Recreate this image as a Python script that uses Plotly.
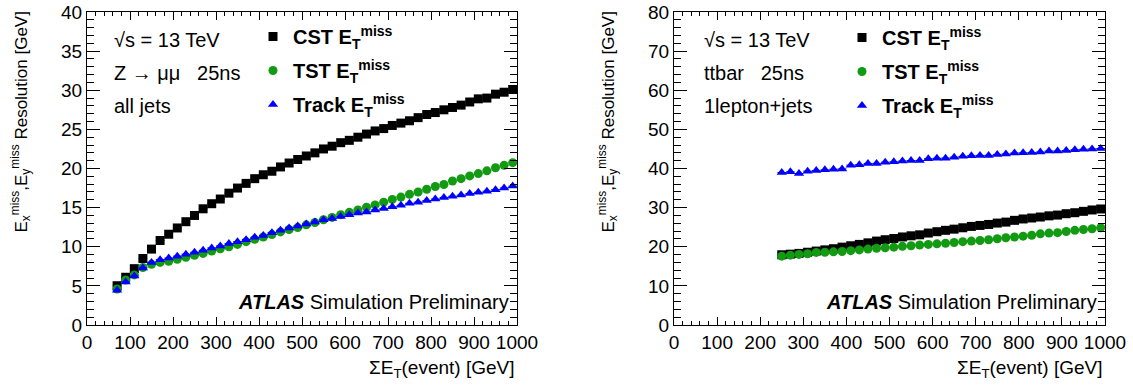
import plotly.graph_objects as go

# ---------------- data ----------------
x_left = [70, 90, 110, 130, 150, 170, 190, 210, 230, 250, 270, 290, 310, 330, 350, 370,
          390, 410, 430, 450, 470, 490, 510, 530, 550, 570, 590, 610, 630, 650, 670, 690,
          710, 730, 750, 770, 790, 810, 830, 850, 870, 890, 910, 930, 950, 970, 990]
cst_left = [5.02, 6.1, 7.2, 8.5, 9.7, 10.8, 11.6, 12.4, 13.2, 14.0, 14.85, 15.5, 16.1, 16.85,
            17.5, 18.1, 18.7, 19.2, 19.65, 20.2, 20.7, 21.15, 21.6, 22.0, 22.5, 22.85, 23.3,
            23.6, 24.0, 24.4, 24.8, 25.1, 25.5, 25.8, 26.1, 26.5, 26.9, 27.15, 27.5, 27.8,
            28.1, 28.5, 28.9, 29.0, 29.5, 29.75, 30.1]
tst_left = [4.6, 5.75, 6.4, 7.35, 7.75, 8.0, 8.15, 8.4, 8.65, 8.9, 9.15, 9.45, 9.75, 10.0,
            10.3, 10.65, 10.95, 11.25, 11.55, 11.9, 12.2, 12.45, 12.8, 13.1, 13.45, 13.75,
            14.1, 14.4, 14.7, 15.05, 15.35, 15.7, 16.05, 16.35, 16.7, 17.0, 17.35, 17.7,
            17.95, 18.4, 18.7, 19.05, 19.35, 19.7, 20.1, 20.4, 20.75]
trk_left = [4.45, 5.5, 6.25, 7.3, 8.0, 8.35, 8.55, 8.8, 9.05, 9.3, 9.55, 9.85, 10.1, 10.4,
            10.65, 10.9, 11.2, 11.45, 11.8, 12.1, 12.4, 12.65, 12.9, 13.15, 13.45, 13.6,
            13.85, 14.1, 14.3, 14.45, 14.7, 14.9, 15.1, 15.3, 15.55, 15.7, 15.9, 16.1, 16.3,
            16.45, 16.6, 16.8, 16.95, 17.1, 17.3, 17.5, 17.75]

x_right = [250, 270, 290, 310, 330, 350, 370, 390, 410, 430, 450, 470, 490, 510, 530, 550,
           570, 590, 610, 630, 650, 670, 690, 710, 730, 750, 770, 790, 810, 830, 850, 870,
           890, 910, 930, 950, 970, 990]
cst_right = [17.95, 18.1, 18.3, 18.6, 18.9, 19.2, 19.5, 19.9, 20.25, 20.6, 21.0, 21.45, 21.8,
             22.1, 22.5, 22.8, 23.05, 23.5, 23.85, 24.2, 24.5, 24.85, 25.2, 25.45, 25.7,
             26.05, 26.3, 26.75, 27.1, 27.35, 27.6, 27.9, 28.1, 28.45, 28.7, 29.05, 29.4, 29.65]
tst_right = [17.6, 17.85, 18.05, 18.2, 18.55, 18.6, 18.7, 18.8, 19.0, 19.2, 19.4, 19.6, 19.75,
             19.9, 20.1, 20.25, 20.45, 20.6, 20.75, 20.9, 21.1, 21.3, 21.45, 21.6, 21.8, 22.05,
             22.3, 22.5, 22.7, 22.95, 23.3, 23.5, 23.6, 23.9, 24.2, 24.4, 24.6, 24.85]
trk_right = [38.97, 39.15, 38.7, 39.3, 39.5, 39.65, 39.8, 39.9, 40.85, 40.95, 41.3, 41.3, 41.6,
             41.7, 41.9, 42.05, 42.05, 42.5, 42.6, 42.65, 42.9, 43.1, 43.25, 43.35, 43.35,
             43.6, 43.7, 43.95, 44.0, 44.1, 44.2, 44.45, 44.45, 44.6, 44.8, 44.9, 45.0, 45.1]

series_names = ["<b>CST E<sub>T</sub><sup>miss</sup></b>",
                "<b>TST E<sub>T</sub><sup>miss</sup></b>",
                "<b>Track E<sub>T</sub><sup>miss</sup></b>"]
left_text = ["√s = 13 TeV", "Z → μμ   25ns", "all jets"]
right_text = ["√s = 13 TeV", "ttbar   25ns", "1lepton+jets"]

# ---------------- style ----------------
W, H = 1133, 390
FONT = "Liberation Sans, Arial, Helvetica, sans-serif"
colors = ["#000000", "#129a12", "#0000ff"]
symbols = ["square", "circle", "triangle-up"]
sizes = [9, 9, 9]

def px_x(p):
    return p / W

def px_y(p):
    return 1 - p / H

fig = go.Figure()

panels = [
    dict(x=x_left, ys=[cst_left, tst_left, trk_left], xa="x", ya="y", legend="legend"),
    dict(x=x_right, ys=[cst_right, tst_right, trk_right], xa="x2", ya="y2", legend="legend2"),
]
for pi, p in enumerate(panels):
    for i, ys in enumerate(p["ys"]):
        fig.add_trace(go.Scatter(
            x=p["x"], y=ys, mode="markers", name=series_names[i],
            xaxis=p["xa"], yaxis=p["ya"], legend=p["legend"],
            legendgroup=f"g{pi}{i}",
            marker=dict(symbol=symbols[i], color=colors[i], size=sizes[i], line=dict(width=0)),
            error_x=dict(type="constant", value=10, thickness=1, width=0, color=colors[i]),
            showlegend=True,
        ))

dom_y = [px_y(325), px_y(12)]
axis_common = dict(
    showline=True, linecolor="black", linewidth=1, mirror="ticks",
    ticks="inside", tickcolor="black", tickwidth=1,
    showgrid=False, zeroline=False, automargin=False,
    tickfont=dict(family=FONT, size=19, color="black"),
)
fig.update_layout(
    xaxis=dict(domain=[px_x(87), px_x(517)], range=[0, 1000], dtick=100, tick0=0, ticklen=8,
               minor=dict(dtick=20, ticklen=4, ticks="inside", tickcolor="black", showgrid=False),
               anchor="y", **axis_common),
    yaxis=dict(domain=dom_y, range=[0, 40], dtick=5, tick0=0, ticklen=13,
               minor=dict(dtick=1, ticklen=7, ticks="inside", tickcolor="black", showgrid=False),
               anchor="x", **axis_common),
    xaxis2=dict(domain=[px_x(674), px_x(1105)], range=[0, 1000], dtick=100, tick0=0, ticklen=8,
                minor=dict(dtick=20, ticklen=4, ticks="inside", tickcolor="black", showgrid=False),
                anchor="y2", **axis_common),
    yaxis2=dict(domain=dom_y, range=[0, 80], dtick=10, tick0=0, ticklen=13,
                minor=dict(dtick=2, ticklen=7, ticks="inside", tickcolor="black", showgrid=False),
                anchor="x2", **axis_common),
)

legend_common = dict(
    font=dict(family=FONT, size=20, color="black"),
    bgcolor="rgba(0,0,0,0)", borderwidth=0,
    tracegroupgap=5, itemclick=False, itemdoubleclick=False,
    xanchor="left", yanchor="top",
)
fig.update_layout(
    legend=dict(x=px_x(253), y=px_y(17), **legend_common),
    legend2=dict(x=px_x(842), y=px_y(18), **legend_common),
)

annotations = []
# panel texts
for texts, x0 in [(left_text, 112), (right_text, 702)]:
    for k, t in enumerate(texts):
        annotations.append(dict(
            text=t, x=px_x(x0), y=px_y([40, 73, 106][k]), xref="paper", yref="paper",
            xanchor="left", yanchor="middle", showarrow=False,
            font=dict(family=FONT, size=20, color="black"),
        ))
# ATLAS label
for xr in [511, 1099]:
    annotations.append(dict(
        text="<b><i>ATLAS</i></b> Simulation Preliminary",
        x=px_x(xr), y=px_y(302), xref="paper", yref="paper",
        xanchor="right", yanchor="middle", showarrow=False,
        font=dict(family=FONT, size=20, color="black"),
    ))
# x titles
for xr in [517, 1105]:
    annotations.append(dict(
        text="ΣE<sub>T</sub>(event) [GeV]",
        x=px_x(xr), y=px_y(369), xref="paper", yref="paper",
        xanchor="right", yanchor="middle", showarrow=False,
        font=dict(family=FONT, size=19, color="black"),
    ))
# y titles
for xc in [21, 608]:
    annotations.append(dict(
        text="E<sub>x</sub><sup>miss</sup>,E<sub>y</sub><sup>miss</sup> Resolution [GeV]",
        x=px_x(xc), y=px_y(10), xref="paper", yref="paper",
        xanchor="center", yanchor="top", textangle=-90, showarrow=False,
        font=dict(family=FONT, size=17, color="black"),
    ))

fig.update_layout(
    annotations=annotations,
    width=W, height=H,
    margin=dict(l=0, r=0, t=0, b=0, autoexpand=False),
    paper_bgcolor="white", plot_bgcolor="white",
    font=dict(family=FONT, color="black"),
)

fig.write_html("out.html")
